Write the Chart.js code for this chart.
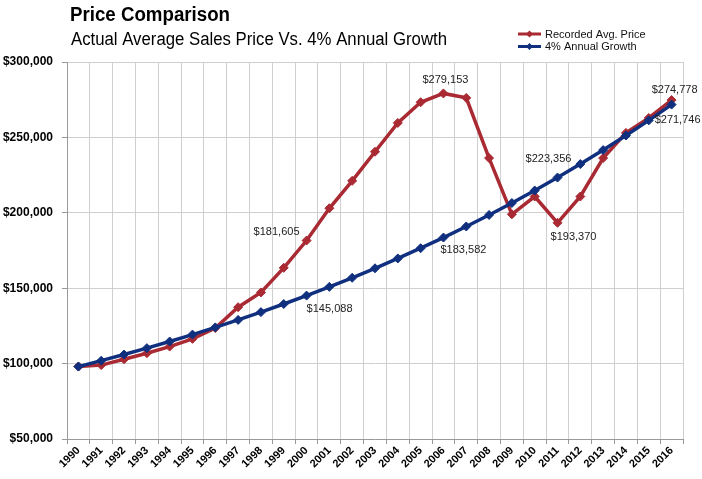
<!DOCTYPE html>
<html>
<head>
<meta charset="utf-8">
<script src="https://cdn.jsdelivr.net/npm/chart.js@4.4.0/dist/chart.umd.min.js"></script>
<style>
  html, body { margin: 0; padding: 0; background: #fff; }
  #wrap { width: 702px; height: 479px; position: relative; }
</style>
</head>
<body>
<div id="wrap"><canvas id="priceChart"></canvas></div>
<script>
// Chart data
const years = ['1990', '1991', '1992', '1993', '1994', '1995', '1996', '1997', '1998', '1999',
  '2000', '2001', '2002', '2003', '2004', '2005', '2006', '2007', '2008', '2009',
  '2010', '2011', '2012', '2013', '2014', '2015', '2016'];

const recordedPrice = [98100, 99000, 102900, 106900, 111300, 116400, 123600, 137400, 147200, 163500,
  181605, 203000, 221200, 240500, 259600, 273300, 279153, 276200, 236300, 199000,
  210800, 193370, 210800, 236300, 253000, 262900, 274778];

const growthPrice = [98016, 101937, 106014, 110254, 114664, 119251, 124021, 128982, 134141, 139507,
  145088, 150891, 156927, 163204, 169732, 176521, 183582, 190925, 198562, 206505,
  214765, 223356, 232290, 241581, 251244, 261294, 271746];

const seriesNames = ['Recorded Avg. Price', '4% Annual Growth'];
const chartTitle = 'Price Comparison';
const chartSubtitle = 'Actual Average Sales Price Vs. 4% Annual Growth';

// value callouts: dataset, point index, text offset from the point
const callouts = [
  { ds: 0, idx: 16, dx: 2, dy: -13 },
  { ds: 0, idx: 26, dx: 3, dy: -10 },
  { ds: 1, idx: 26, dx: 6, dy: 15 },
  { ds: 1, idx: 21, dx: -9, dy: -19 },
  { ds: 0, idx: 21, dx: 16, dy: 14 },
  { ds: 0, idx: 10, dx: -30, dy: -9 },
  { ds: 1, idx: 10, dx: 23, dy: 13 },
  { ds: 1, idx: 16, dx: 20, dy: 12 }
];

const redColor = '#a92a33';
const blueColor = '#10307f';

function money(v) {
  return '$' + Number(v).toLocaleString('en-US');
}

// draw text squeezed to a given width (condensed look)
function condensedText(c, text, x, y, width) {
  const w = c.measureText(text).width;
  c.save();
  c.translate(x, y);
  c.scale(width / w, 1);
  c.fillText(text, 0, 0);
  c.restore();
}

// Title, subtitle and legend drawn above the plot
const headerPlugin = {
  id: 'header',
  afterDraw(chart) {
    const c = chart.ctx;
    c.save();
    c.fillStyle = '#000';
    c.textBaseline = 'alphabetic';
    c.textAlign = 'left';
    c.font = 'bold 20px "Liberation Sans", Arial, sans-serif';
    condensedText(c, chartTitle, 70, 21, 160);
    c.font = '18px "Liberation Sans", Arial, sans-serif';
    condensedText(c, chartSubtitle, 71, 45, 376);

    // legend
    chart.data.datasets.forEach(function (ds, i) {
      const y = 34 + i * 12.5;
      c.strokeStyle = ds.borderColor;
      c.lineWidth = 3;
      c.beginPath();
      c.moveTo(518, y);
      c.lineTo(541, y);
      c.stroke();
      c.fillStyle = ds.borderColor;
      c.beginPath();
      c.moveTo(529.5, y - 3.5);
      c.lineTo(533, y);
      c.lineTo(529.5, y + 3.5);
      c.lineTo(526, y);
      c.closePath();
      c.fill();
      c.fillStyle = '#111';
      c.font = '11px "Liberation Sans", Arial, sans-serif';
      c.textBaseline = 'middle';
      c.fillText(ds.label, 545, y + 0.5);
    });
    c.restore();
  }
};

// Value labels next to selected points
const calloutPlugin = {
  id: 'callouts',
  afterDatasetsDraw(chart) {
    const c = chart.ctx;
    c.save();
    c.font = '11px "Liberation Sans", Arial, sans-serif';
    c.fillStyle = '#222';
    c.textAlign = 'center';
    c.textBaseline = 'middle';
    callouts.forEach(function (co) {
      const pt = chart.getDatasetMeta(co.ds).data[co.idx];
      const val = chart.data.datasets[co.ds].data[co.idx];
      c.fillText(money(val), pt.x + co.dx, pt.y + co.dy);
    });
    c.restore();
  }
};

const ctx = document.getElementById('priceChart').getContext('2d');

const priceChart = new Chart(ctx, {
  type: 'line',
  data: {
    labels: years,
    datasets: [
      {
        label: seriesNames[0],
        data: recordedPrice,
        borderColor: redColor,
        backgroundColor: redColor,
        borderWidth: 3.5,
        pointStyle: 'rectRot',
        pointRadius: 4.5,
        pointBorderWidth: 1,
        tension: 0,
        fill: false,
        order: 2
      },
      {
        label: seriesNames[1],
        data: growthPrice,
        borderColor: blueColor,
        backgroundColor: blueColor,
        borderWidth: 3.5,
        pointStyle: 'rectRot',
        pointRadius: 4.5,
        pointBorderWidth: 1,
        tension: 0,
        fill: false,
        order: 1
      }
    ]
  },
  options: {
    responsive: true,
    maintainAspectRatio: false,
    animation: false,
    layout: { padding: { top: 62, right: 19, left: 0, bottom: 0 } },
    plugins: {
      legend: { display: false },
      title: { display: false },
      tooltip: { enabled: false }
    },
    scales: {
      x: {
        offset: true,
        grid: { offset: true, color: '#cfcfcf', tickLength: 5, tickColor: '#999' },
        border: { color: '#999' },
        ticks: {
          autoSkip: false,
          maxRotation: 45,
          minRotation: 45,
          color: '#000',
          padding: 0,
          font: { family: '"Liberation Sans", Arial, sans-serif', size: 11, weight: 'bold' }
        },
        afterFit: function (scale) { scale.height = 40; }
      },
      y: {
        min: 50000,
        max: 300000,
        grid: { color: '#cfcfcf', tickLength: 5, tickColor: '#999' },
        border: { color: '#999' },
        ticks: {
          stepSize: 50000,
          color: '#000',
          padding: 9,
          font: { family: '"Liberation Sans", Arial, sans-serif', size: 12, weight: 'bold' },
          callback: function (v) { return money(v); }
        },
        afterFit: function (scale) { scale.width = 67; }
      }
    }
  },
  plugins: [headerPlugin, calloutPlugin]
});
</script>
</body>
</html>
